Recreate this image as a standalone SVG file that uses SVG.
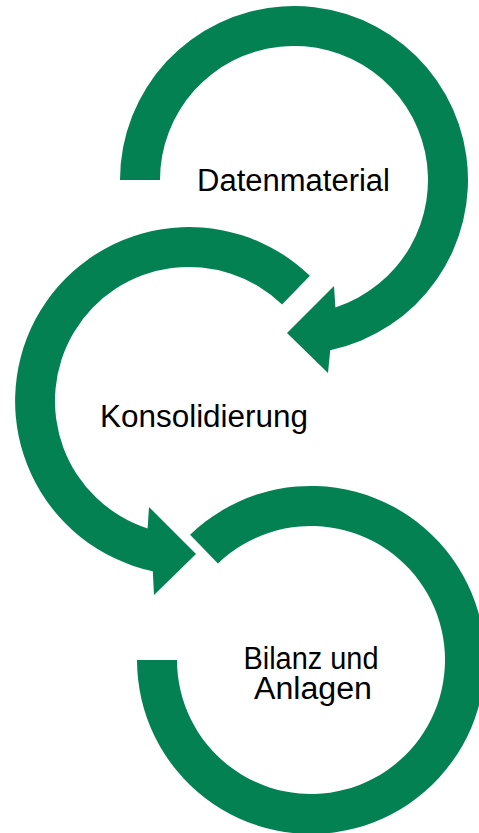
<svg xmlns="http://www.w3.org/2000/svg" width="479" height="833" viewBox="0 0 479 833">
<style>
.arr{fill:#038152;stroke:none}
.lbl{font-family:"Liberation Sans",Arial,sans-serif;font-size:31px;fill:#000;text-anchor:middle}
</style>
<rect width="479" height="833" fill="#fff"/>
<g id="connectors">
<path id="arrow1" class="arr" d="M120,180 A174,174 0 1 1 330.2,350.2 L328,373 L287,333 L334,286 L335.4,307.4 A134,134 0 1 0 160,180 Z"/>
<path id="arrow2" class="arr" d="M309.9,275.8 A174,174 0 1 0 152.8,571.2 L154,595 L196,554 L149,507 L147.6,528.4 A134,134 0 1 1 282.1,304.6 Z"/>
<path id="arrow3" class="arr" d="M137,660 A174,174 0 1 0 190.1,534.8 L217.9,563.6 A134,134 0 1 1 177,660 Z"/>
</g>
<g id="node-datenmaterial"><text class="lbl" x="293.5" y="191" textLength="193" lengthAdjust="spacingAndGlyphs">Datenmaterial</text></g>
<g id="node-konsolidierung"><text class="lbl" x="204" y="427" textLength="208" lengthAdjust="spacingAndGlyphs">Konsolidierung</text></g>
<g id="node-bilanz"><text class="lbl" x="311" y="669" textLength="135" lengthAdjust="spacingAndGlyphs">Bilanz und</text><text class="lbl" x="313" y="699" textLength="118" lengthAdjust="spacingAndGlyphs">Anlagen</text></g>
</svg>
